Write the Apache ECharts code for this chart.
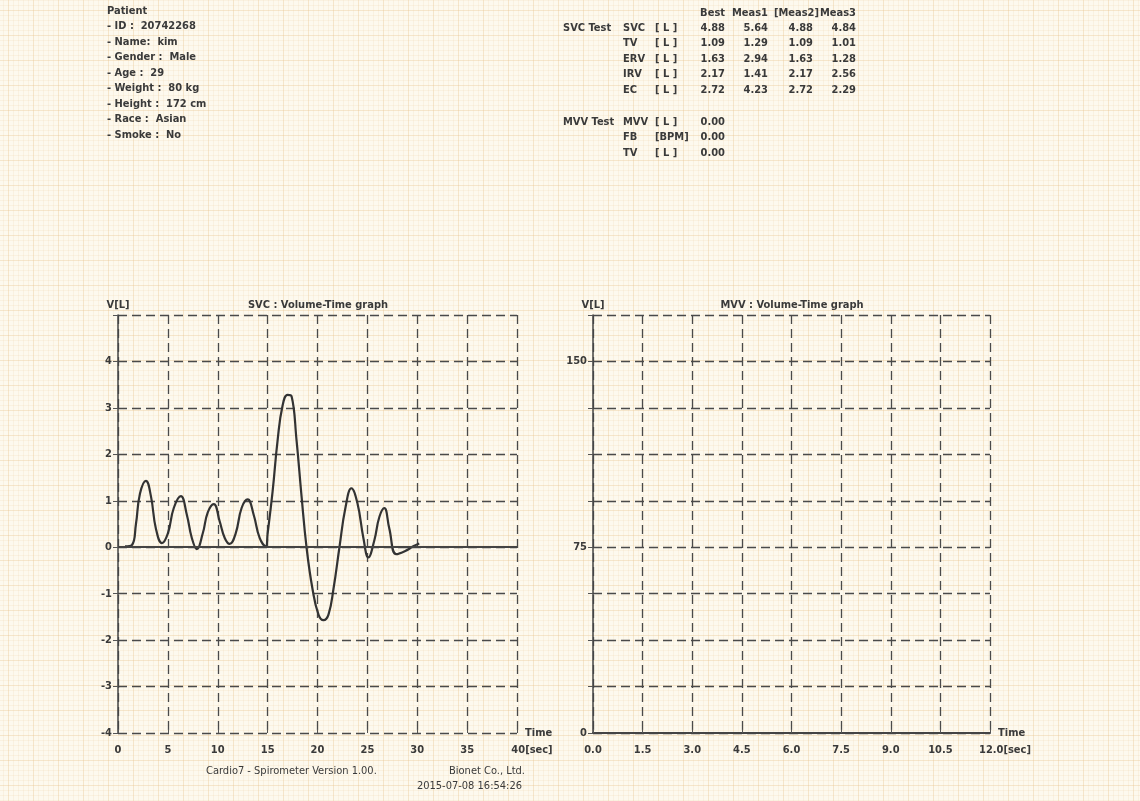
<!DOCTYPE html>
<html>
<head>
<meta charset="utf-8">
<script src="https://cdn.jsdelivr.net/npm/echarts@6/dist/echarts.min.js"></script>
<style>
html, body { margin: 0; padding: 0; }
body {
    width: 1140px; height: 801px;
    background-color: #fdf9ee;
    background-image:
        linear-gradient(to right, rgba(232,195,140,0.26) 1px, transparent 1px),
        linear-gradient(to bottom, rgba(232,195,140,0.26) 1px, transparent 1px),
        linear-gradient(to right, rgba(240,212,170,0.20) 1px, transparent 1px),
        linear-gradient(to bottom, rgba(240,212,170,0.20) 1px, transparent 1px);
    background-size: 25px 25px, 25px 25px, 5px 5px, 5px 5px;
    background-position: 8px 10px;
}
#echart { width: 1140px; height: 801px; }
</style>
</head>
<body>
<div id="echart"></div>
<script>
// SVC volume-time curve (sec, L)
var svcTime = [0.7, 1.4, 1.8, 2.2, 2.8, 3.3, 3.8, 4.4, 5.0, 5.6, 6.3, 6.9, 7.4, 7.9, 8.5, 9.0, 9.6, 10.2, 10.7, 11.2,
    11.8, 12.4, 13.0, 13.6, 14.2, 14.8, 15.0, 15.5, 16.0, 16.5, 17.0, 17.4, 17.9, 18.4, 18.9, 19.5, 20.1, 20.6, 21.1,
    21.6, 22.2, 22.8, 23.4, 24.0, 24.6, 25.1, 25.7, 26.2, 26.7, 27.2, 27.9, 28.8, 29.6, 30.2];
var svcVolume = [0.02, 0.05, 0.5, 1.15, 1.43, 1.1, 0.4, 0.09, 0.3, 0.85, 1.1, 0.7, 0.2, -0.04, 0.3, 0.75, 0.93, 0.55, 0.2, 0.07,
    0.3, 0.85, 1.03, 0.7, 0.2, 0.02, 0.3, 1.2, 2.3, 3.05, 3.28, 3.25, 2.3, 1.1, 0.0, -0.9, -1.45, -1.57, -1.45,
    -0.9, 0.0, 0.85, 1.27, 0.95, 0.2, -0.22, 0.15, 0.65, 0.84, 0.4, -0.15, -0.08, 0.02, 0.08];
// MVV curve: no data recorded
var mvvTime = [];
var mvvVolume = [];

var patientLines = ['Patient', '- ID :  20742268', '- Name:  kim', '- Gender :  Male', '- Age :  29',
    '- Weight :  80 kg', '- Height :  172 cm', '- Race :  Asian', '- Smoke :  No'];

var tableHeader = ['Best', 'Meas1', '[Meas2]', 'Meas3'];
var svcParams = ['SVC', 'TV', 'ERV', 'IRV', 'EC'];
var svcUnits = ['[ L ]', '[ L ]', '[ L ]', '[ L ]', '[ L ]'];
var svcBest = ['4.88', '1.09', '1.63', '2.17', '2.72'];
var svcMeas1 = ['5.64', '1.29', '2.94', '1.41', '4.23'];
var svcMeas2 = ['4.88', '1.09', '1.63', '2.17', '2.72'];
var svcMeas3 = ['4.84', '1.01', '1.28', '2.56', '2.29'];
var mvvParams = ['MVV', 'FB', 'TV'];
var mvvUnits = ['[ L ]', '[BPM]', '[ L ]'];
var mvvBest = ['0.00', '0.00', '0.00'];

var FONT = 'DejaVu Sans Condensed';
var INK = '#3a3a3a';

function txt(x, y, s, align, weight) {
    return {
        type: 'text', x: x, y: y, silent: true,
        style: { text: s, fill: INK, font: (weight || 'bold') + ' 11px "' + FONT + '"',
            textAlign: align || 'left', textVerticalAlign: 'middle' }
    };
}

var graphics = [];
for (var i = 0; i < patientLines.length; i++) {
    graphics.push(txt(107, 11 + i * 15.5, patientLines[i]));
}
var colRight = [725, 768, 819, 856];
for (i = 0; i < tableHeader.length; i++) graphics.push(txt(colRight[i], 13, tableHeader[i], 'right'));
var valRight = [725, 768, 813, 856];
graphics.push(txt(563, 28, 'SVC Test'));
for (i = 0; i < svcParams.length; i++) {
    var y = 28 + i * 15.5;
    graphics.push(txt(623, y, svcParams[i]));
    graphics.push(txt(655, y, svcUnits[i]));
    graphics.push(txt(valRight[0], y, svcBest[i], 'right'));
    graphics.push(txt(valRight[1], y, svcMeas1[i], 'right'));
    graphics.push(txt(valRight[2], y, svcMeas2[i], 'right'));
    graphics.push(txt(valRight[3], y, svcMeas3[i], 'right'));
}
graphics.push(txt(563, 122, 'MVV Test'));
for (i = 0; i < mvvParams.length; i++) {
    var y2 = 122 + i * 15.5;
    graphics.push(txt(623, y2, mvvParams[i]));
    graphics.push(txt(655, y2, mvvUnits[i]));
    graphics.push(txt(valRight[0], y2, mvvBest[i], 'right'));
}
graphics.push(txt(318, 305, 'SVC : Volume-Time graph', 'center'));
graphics.push(txt(792, 305, 'MVV : Volume-Time graph', 'center'));
graphics.push(txt(206, 771, 'Cardio7 - Spirometer Version 1.00.', 'left', 'normal'));
graphics.push(txt(525, 771, 'Bionet Co., Ltd.', 'right', 'normal'));
graphics.push(txt(522, 786, '2015-07-08 16:54:26', 'right', 'normal'));

var dashed = { show: true, lineStyle: { color: '#4a4a4a', width: 1.3, type: [9, 5] } };
var labelStyle = { color: INK, fontFamily: FONT, fontSize: 11, fontWeight: 'bold' };

function xAxisCfg(idx, max, interval, digits, solidLine) {
    return {
        type: 'value', gridIndex: idx, min: 0, max: max, interval: interval,
        axisLine: { show: solidLine, onZero: false, lineStyle: { color: '#444', width: 2 } },
        axisTick: { show: true, inside: true, length: 4, lineStyle: { color: '#555' } },
        splitLine: dashed,
        axisLabel: {
            color: INK, fontFamily: FONT, fontSize: 11, fontWeight: 'bold', margin: 12,
            formatter: function (v) {
                var s = v.toFixed(digits);
                return v === max ? '{pad|}' + s + '[sec]' : s;
            },
            rich: { pad: { width: 30 } }
        },
        name: 'Time', nameLocation: 'end', nameGap: 8,
        nameTextStyle: { color: INK, fontFamily: FONT, fontSize: 11, fontWeight: 'bold', verticalAlign: 'middle' }
    };
}

var myChart = echarts.init(document.getElementById('echart'));
var option = {
    backgroundColor: 'transparent',
    animation: false,
    graphic: graphics,
    grid: [
        { left: 118, top: 315, width: 399, height: 418 },
        { left: 593, top: 315, width: 397, height: 418 }
    ],
    xAxis: [
        xAxisCfg(0, 40, 5, 0, false),
        xAxisCfg(1, 12, 1.5, 1, true)
    ],
    yAxis: [
        {
            type: 'value', gridIndex: 0, min: -4, max: 5, interval: 1,
            axisLine: { show: true, onZero: false, lineStyle: { color: '#444', width: 1.5 } },
            axisTick: { show: true, length: 5, lineStyle: { color: '#555' } },
            splitLine: dashed,
            axisLabel: Object.assign({ margin: 6, formatter: function (v) { return v === 5 ? '' : v; } }, labelStyle),
            name: 'V[L]', nameLocation: 'end', nameGap: 4,
            nameTextStyle: labelStyle
        },
        {
            type: 'value', gridIndex: 1, min: 0, max: 168.75, interval: 18.75,
            axisLine: { show: true, onZero: false, lineStyle: { color: '#444', width: 1.5 } },
            axisTick: { show: true, length: 5, lineStyle: { color: '#555' } },
            splitLine: dashed,
            axisLabel: Object.assign({ margin: 6, formatter: function (v) { return v % 75 === 0 ? v : ''; } }, labelStyle),
            name: 'V[L]', nameLocation: 'end', nameGap: 4,
            nameTextStyle: labelStyle
        }
    ],
    series: [
        {
            name: 'SVC', type: 'line', xAxisIndex: 0, yAxisIndex: 0,
            data: svcTime.map(function (t, k) { return [t, svcVolume[k]]; }),
            smooth: 0.45, showSymbol: false, symbol: 'none',
            lineStyle: { color: '#333', width: 2.2 },
            markLine: {
                silent: true, symbol: 'none', label: { show: false },
                lineStyle: { color: '#444', width: 2, type: 'solid' },
                data: [{ yAxis: 0 }]
            }
        },
        {
            name: 'MVV', type: 'line', xAxisIndex: 1, yAxisIndex: 1,
            data: mvvTime.map(function (t, k) { return [t, mvvVolume[k]]; }),
            showSymbol: false, lineStyle: { color: '#333', width: 2 }
        }
    ]
};
myChart.setOption(option);
window.onresize = myChart.resize;
</script>
</body>
</html>
